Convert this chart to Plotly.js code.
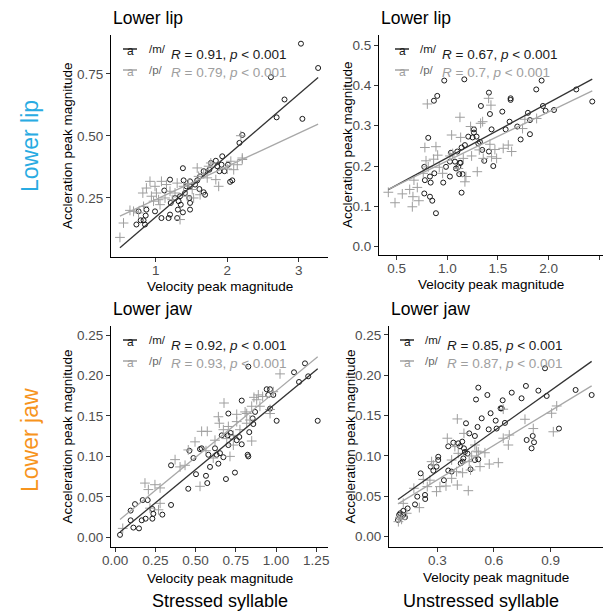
<!DOCTYPE html>
<html><head><meta charset="utf-8">
<script src="https://cdn.plot.ly/plotly-3.0.1.min.js"></script>
<style>html,body{margin:0;padding:0;background:#fff}#chart{width:607px;height:611px}</style>
</head><body><div id="chart"></div>
<script>
// ---------------- data ----------------
// Top-left: Lower lip, stressed
const tl_m_x = [3.03,2.61,2.80,2.69,3.05,3.27,2.21,2.17,1.93,1.84,2.01,1.92,1.86,1.89,1.96,2.04,2.07,1.38,1.20,1.39,1.48,1.58,1.62,1.67,1.75,1.55,1.48,1.61,1.67,1.69,1.12,1.41,1.34,1.47,1.32,1.35,1.31,1.48,1.38,1.48,1.30,1.18,1.08,1.20,0.99,0.87,0.76,0.86,0.83,0.79,0.73,0.85,1.21,1.27,1.43,1.77];
const tl_m_y = [0.872,0.737,0.647,0.575,0.569,0.774,0.504,0.472,0.418,0.400,0.384,0.384,0.378,0.358,0.358,0.315,0.321,0.370,0.324,0.321,0.317,0.321,0.337,0.358,0.364,0.304,0.297,0.286,0.273,0.263,0.280,0.270,0.257,0.250,0.237,0.223,0.203,0.230,0.192,0.203,0.169,0.169,0.169,0.183,0.196,0.203,0.196,0.179,0.160,0.160,0.143,0.143,0.230,0.250,0.297,0.391];
const tl_p_x = [0.50,0.55,0.64,0.83,0.82,0.92,0.99,0.87,1.01,1.08,1.15,1.20,1.13,1.27,0.97,1.06,1.30,1.39,1.46,1.58,1.60,1.67,1.72,1.84,1.88,1.77,1.74,2.00,2.09,2.21,2.14,2.19,2.21,1.51,1.44,1.34,1.53,1.62,1.23,0.76,0.69,0.94,1.04,2.05];
const tl_p_y = [0.091,0.149,0.200,0.216,0.270,0.317,0.297,0.290,0.270,0.317,0.304,0.277,0.250,0.270,0.237,0.223,0.310,0.297,0.308,0.371,0.337,0.348,0.331,0.324,0.297,0.391,0.378,0.367,0.364,0.411,0.384,0.501,0.405,0.284,0.257,0.163,0.250,0.263,0.243,0.190,0.196,0.257,0.243,0.398];

// Top-right: Lower lip, unstressed
const tr_m_x = [0.970,1.168,0.868,0.901,0.812,0.773,0.779,0.773,0.829,0.852,0.888,0.829,0.836,0.872,0.960,0.987,1.026,1.026,1.036,1.076,1.086,1.109,1.125,1.118,1.141,1.151,1.132,1.099,1.141,1.174,1.207,1.250,1.263,1.263,1.289,1.306,1.322,1.332,1.411,1.421,1.437,1.454,1.365,1.411,1.543,1.576,1.615,1.625,1.625,1.691,1.724,1.796,1.816,1.816,1.878,1.931,1.944,1.970,2.053,2.273,2.431,1.345];
const tr_m_y = [0.412,0.415,0.362,0.374,0.270,0.198,0.165,0.132,0.124,0.114,0.083,0.174,0.159,0.182,0.159,0.198,0.211,0.174,0.233,0.211,0.194,0.198,0.208,0.180,0.134,0.180,0.208,0.236,0.246,0.252,0.273,0.271,0.283,0.291,0.273,0.256,0.260,0.349,0.382,0.329,0.291,0.200,0.213,0.236,0.335,0.291,0.310,0.368,0.364,0.298,0.266,0.332,0.314,0.279,0.390,0.412,0.349,0.337,0.339,0.390,0.360,0.240];
const tr_p_x = [0.418,0.484,0.556,0.655,0.629,0.661,0.704,0.720,0.671,0.763,0.790,0.779,0.888,0.865,0.803,0.812,0.921,0.905,1.043,1.053,1.125,1.132,1.158,1.174,1.184,1.230,1.240,1.296,1.329,1.349,1.408,1.431,1.316,1.355,1.421,1.437,1.470,1.487,1.552,1.602,1.635,1.743,1.766,1.882,1.109,1.026,0.954];
const tr_p_y = [0.135,0.109,0.131,0.099,0.142,0.124,0.147,0.114,0.165,0.182,0.213,0.246,0.248,0.217,0.354,0.198,0.197,0.227,0.277,0.231,0.321,0.271,0.219,0.161,0.174,0.298,0.225,0.186,0.306,0.310,0.368,0.351,0.240,0.219,0.254,0.223,0.241,0.219,0.244,0.252,0.236,0.293,0.316,0.318,0.194,0.225,0.182];

// Bottom-left: Lower jaw, stressed
const bl_m_x = [0.031,0.097,0.097,0.124,0.114,0.149,0.172,0.203,0.166,0.190,0.232,0.232,0.238,0.294,0.348,0.348,0.455,0.462,0.487,0.503,0.528,0.538,0.565,0.573,0.580,0.590,0.621,0.631,0.642,0.652,0.663,0.673,0.689,0.704,0.700,0.704,0.718,0.725,0.745,0.756,0.772,0.787,0.828,0.834,0.824,0.787,0.859,0.855,0.870,0.828,0.942,0.963,0.952,0.963,0.983,1.004,1.112,1.143,1.180,1.200,1.259];
const bl_m_y = [0.003,0.021,0.033,0.041,0.012,0.011,0.046,0.046,0.021,0.023,0.035,0.023,0.029,0.028,0.089,0.040,0.060,0.107,0.098,0.078,0.109,0.110,0.076,0.067,0.102,0.087,0.110,0.102,0.091,0.104,0.126,0.099,0.072,0.153,0.126,0.114,0.129,0.124,0.080,0.120,0.124,0.115,0.100,0.130,0.102,0.169,0.140,0.147,0.155,0.211,0.183,0.183,0.176,0.159,0.176,0.144,0.204,0.192,0.215,0.199,0.144];
const bl_p_x = [0.048,0.186,0.248,0.280,0.270,0.280,0.373,0.404,0.435,0.455,0.497,0.538,0.573,0.528,0.565,0.610,0.621,0.642,0.648,0.677,0.704,0.673,0.694,0.735,0.735,0.714,0.756,0.756,0.776,0.818,0.818,0.849,0.838,0.849,0.863,0.880,0.890,0.917,0.963,0.983,1.025,0.900,0.963,0.808,0.207,0.217];
const bl_p_y = [0.011,0.067,0.065,0.061,0.034,0.042,0.096,0.087,0.089,0.108,0.118,0.131,0.131,0.063,0.107,0.098,0.120,0.149,0.141,0.166,0.137,0.133,0.122,0.126,0.114,0.100,0.152,0.143,0.133,0.141,0.153,0.119,0.145,0.162,0.173,0.170,0.176,0.174,0.158,0.180,0.202,0.162,0.153,0.155,0.059,0.036];

// Bottom-right: Lower jaw, unstressed
const br_m_x = [0.092,0.098,0.104,0.120,0.120,0.143,0.129,0.182,0.194,0.212,0.235,0.236,0.265,0.279,0.296,0.305,0.305,0.335,0.358,0.358,0.376,0.385,0.411,0.420,0.432,0.441,0.438,0.424,0.434,0.446,0.452,0.460,0.476,0.469,0.499,0.505,0.513,0.517,0.517,0.535,0.565,0.572,0.582,0.609,0.614,0.635,0.641,0.646,0.658,0.694,0.746,0.773,0.769,0.799,0.805,0.812,0.835,0.870,0.879,0.944,1.032,1.117,0.499];
const br_m_y = [0.0207,0.027,0.029,0.027,0.032,0.035,0.024,0.040,0.0496,0.0785,0.0517,0.0467,0.0868,0.0818,0.0868,0.099,0.095,0.070,0.112,0.082,0.0806,0.1165,0.1157,0.112,0.1178,0.1095,0.097,0.091,0.093,0.105,0.1405,0.103,0.0835,0.128,0.1248,0.170,0.136,0.0959,0.1847,0.1467,0.1756,0.133,0.153,0.1438,0.134,0.159,0.159,0.169,0.141,0.1785,0.1715,0.1198,0.1868,0.1095,0.1248,0.117,0.181,0.2087,0.1744,0.134,0.1818,0.1756,0.095];
const br_p_x = [0.094,0.102,0.111,0.120,0.138,0.176,0.205,0.226,0.247,0.261,0.270,0.279,0.296,0.314,0.346,0.376,0.376,0.402,0.406,0.411,0.406,0.434,0.441,0.464,0.469,0.476,0.482,0.499,0.517,0.526,0.552,0.575,0.623,0.649,0.649,0.676,0.681,0.764,0.808,0.905,0.914,0.932,0.353,0.393,0.508];
const br_p_y = [0.0186,0.024,0.0215,0.0413,0.029,0.060,0.036,0.071,0.062,0.070,0.093,0.0888,0.0558,0.062,0.0628,0.0723,0.095,0.0806,0.1459,0.1033,0.064,0.0793,0.128,0.057,0.093,0.0826,0.100,0.1136,0.105,0.0868,0.104,0.090,0.0917,0.122,0.158,0.1136,0.126,0.1455,0.134,0.153,0.130,0.162,0.122,0.1116,0.106];

// correlation labels
const r_m = ['0.91','0.67','0.92','0.85'];
const r_p = ['0.79','0.7','0.93','0.87'];
const rowLabels = ['Lower lip','Lower jaw'];
const colLabels = ['Stressed syllable','Unstressed syllable'];
const groupLabels = ['/m/','/p/'];

// ---------------- layout helpers ----------------
const W = 607, H = 611;
const fx = p => p / W, fy = p => 1 - p / H;
const FONT = 'Liberation Sans, Arial, Helvetica, sans-serif';
const CM = '#1a1a1a', CP = '#9e9e9e', CPL = '#a8a8a8';

const panels = [
  {mx:tl_m_x,my:tl_m_y,px:tl_p_x,py:tl_p_y, X:[111,328], Y:[35,257], xr:[0.375,3.408], yr:[0.012,0.907],
   xt:[1,2,3], xfmt:'d', yt:[0.25,0.5,0.75], yfmt:'.2f', title:'Lower lip', yt_title:'Accleration peak magnitude',
   ytx:67, xty:286, key:[123,137], lab:147, rx:169},
  {mx:tr_m_x,my:tr_m_y,px:tr_p_x,py:tr_p_y, X:[379,603], Y:[35,255], xr:[0.326,2.537], yr:[-0.0206,0.525],
   xt:[0.5,1,1.5,2,2.5], xfmt:'.1f', yt:[0,0.1,0.2,0.3,0.4,0.5], yfmt:'.1f', title:'Lower lip', yt_title:'Accleration peak magnitude',
   ytx:348, xty:285, key:[395,409], lab:418, rx:440},
  {mx:bl_m_x,my:bl_m_y,px:bl_p_x,py:bl_p_y, X:[111,328], Y:[326,547], xr:[-0.025,1.323], yr:[-0.012,0.2612],
   xt:[0,0.25,0.5,0.75,1,1.25], xfmt:'.2f', yt:[0,0.05,0.1,0.15,0.2,0.25], yfmt:'.2f', title:'Lower jaw', yt_title:'Acceleration peak magnitude',
   ytx:67, xty:578, key:[123,137], lab:147, rx:169},
  {mx:br_m_x,my:br_m_y,px:br_p_x,py:br_p_y, X:[389,603], Y:[326,547], xr:[0.0444,1.177], yr:[-0.0128,0.2611],
   xt:[0.3,0.6,0.9], xfmt:'.1f', yt:[0,0.05,0.1,0.15,0.2,0.25], yfmt:'.2f', title:'Lower jaw', yt_title:'Acceleration peak magnitude',
   ytx:350, xty:577, key:[400,414], lab:423, rx:445}
];

function ols(xs, ys) {
  const n = xs.length;
  const mx = xs.reduce((a,b)=>a+b,0)/n, my = ys.reduce((a,b)=>a+b,0)/n;
  let sxy = 0, sxx = 0;
  for (let i = 0; i < n; i++) { sxy += (xs[i]-mx)*(ys[i]-my); sxx += (xs[i]-mx)**2; }
  const b = sxy/sxx; return [my - b*mx, b];
}

const traces = [], annotations = [], shapes = [];
const layout = {
  width: W, height: H, margin:{l:0,r:0,t:0,b:0}, showlegend:false,
  paper_bgcolor:'#fff', plot_bgcolor:'#fff', font:{family:FONT},
  annotations, shapes
};

function ann(text, x, y, size, color, extra) {
  return Object.assign({text, x:fx(x), y:fy(y), xref:'paper', yref:'paper', showarrow:false,
    xanchor:'left', yanchor:'middle', font:{family:FONT, size, color}}, extra||{});
}

panels.forEach((p, i) => {
  const k = i === 0 ? '' : String(i+1);
  const xa = 'x'+k, ya = 'y'+k;
  const axBase = {showline:true, linecolor:'#000', linewidth:1, ticks:'outside', ticklen:4, tickwidth:1,
    tickcolor:'#333', showgrid:false, zeroline:false, tickfont:{family:FONT, size:13.5, color:'#4d4d4d'}, fixedrange:true};
  layout['xaxis'+k] = Object.assign({}, axBase, {domain:[fx(p.X[0]), fx(p.X[1])], range:p.xr, anchor:ya,
    tickmode:'array', tickvals:p.xt, tickformat:p.xfmt, ticklabelstandoff:-3});
  layout['yaxis'+k] = Object.assign({}, axBase, {domain:[fy(p.Y[1]), fy(p.Y[0])], range:p.yr, anchor:xa,
    tickmode:'array', tickvals:p.yt, tickformat:p.yfmt});

  traces.push({type:'scatter', mode:'markers', x:p.mx, y:p.my, xaxis:xa, yaxis:ya,
    marker:{symbol:'circle-open', size:5, color:CM, line:{width:1, color:CM}}});
  traces.push({type:'scatter', mode:'markers', x:p.px, y:p.py, xaxis:xa, yaxis:ya,
    marker:{symbol:'cross-thin-open', size:7, color:CP, line:{width:1, color:CP}}});

  const allx = p.mx.concat(p.px);
  const x0 = Math.min(...allx), x1 = Math.max(...allx);
  const fm = ols(p.mx, p.my), fp = ols(p.px, p.py);
  traces.push({type:'scatter', mode:'lines', x:[x0,x1], y:[fm[0]+fm[1]*x0, fm[0]+fm[1]*x1], xaxis:xa, yaxis:ya,
    line:{color:'#333', width:1.3}});
  traces.push({type:'scatter', mode:'lines', x:[x0,x1], y:[fp[0]+fp[1]*x0, fp[0]+fp[1]*x1], xaxis:xa, yaxis:ya,
    line:{color:CPL, width:1.3}});

  // panel title
  annotations.push(ann(p.title, p.X[0], 18 + (p.Y[0]-35), 17.5, '#000'));
  // axis titles
  annotations.push(ann('Velocity peak magnitude', (p.X[0]+p.X[1])/2, p.xty, 13.5, '#000', {xanchor:'center'}));
  annotations.push(ann(p.yt_title, p.ytx, (p.Y[0]+p.Y[1])/2, 13.5, '#000', {xanchor:'center', textangle:-90}));

  // legend keys: a line drawn through an "a" glyph
  const t = p.Y[0];
  [[t+14, CM, '#1a1a1a', groupLabels[0]], [t+35, CP, '#666', groupLabels[1]]].forEach(([yy, c, tc, lab]) => {
    annotations.push(ann('a', (p.key[0]+p.key[1])/2, yy+2, 12, c, {xanchor:'center'}));
    shapes.push({type:'line', xref:'paper', yref:'paper', x0:fx(p.key[0]), x1:fx(p.key[1]), y0:fy(yy), y1:fy(yy),
      line:{color:c, width:1.4}});
    annotations.push(ann(lab, p.lab, yy, 11.5, tc));
  });
  annotations.push(ann('<i>R</i> = ' + r_m[i] + ', <i>p</i> &lt; 0.001', p.rx, t+19.5, 13.5, CM));
  annotations.push(ann('<i>R</i> = ' + r_p[i] + ', <i>p</i> &lt; 0.001', p.rx, t+37, 13.5, CP));
});

// row labels (left) and column labels (bottom)
annotations.push(ann(rowLabels[0], 30, 146, 23, '#29abe2', {xanchor:'center', textangle:-90}));
annotations.push(ann(rowLabels[1], 30, 440, 23, '#f7941d', {xanchor:'center', textangle:-90}));
annotations.push(ann(colLabels[0], 220, 601, 18, '#000', {xanchor:'center'}));
annotations.push(ann(colLabels[1], 481, 601, 18, '#000', {xanchor:'center'}));

Plotly.newPlot('chart', traces, layout, {displayModeBar:false, staticPlot:true});
</script>
</body></html>
